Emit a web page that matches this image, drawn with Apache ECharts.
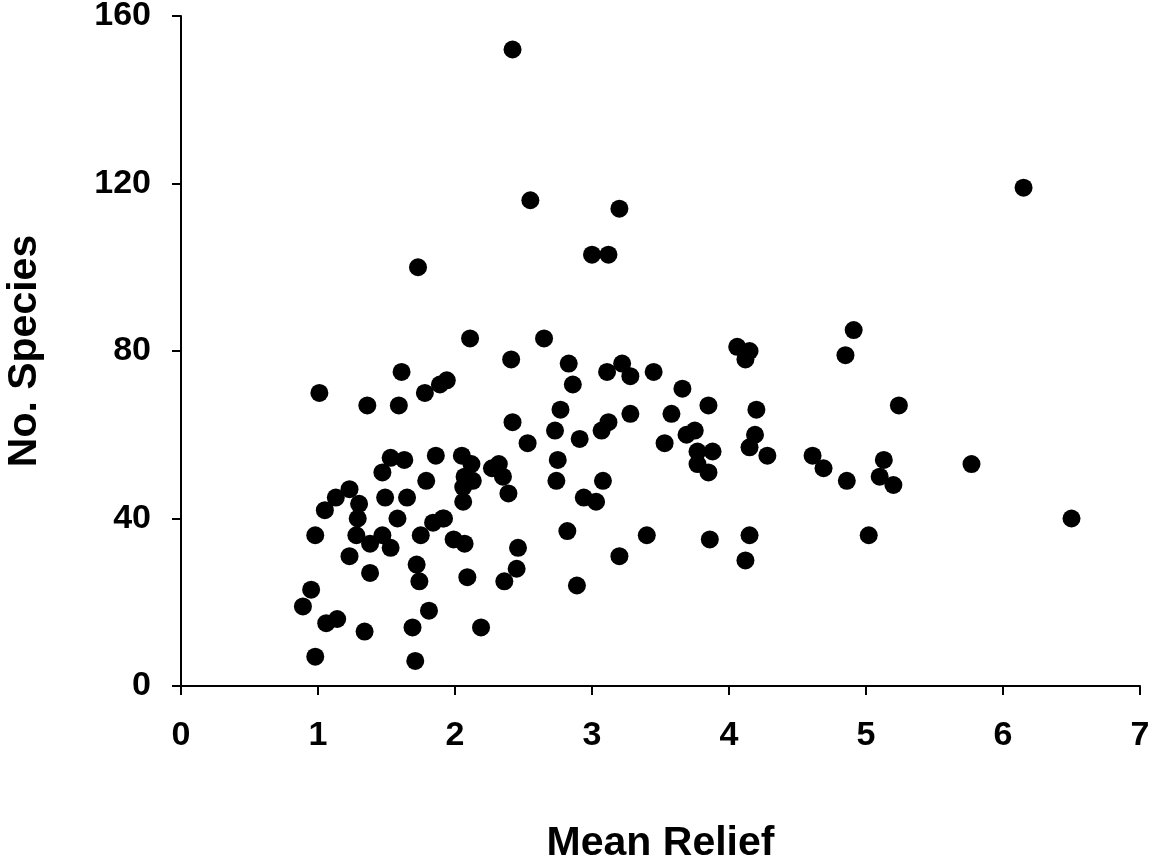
<!DOCTYPE html>
<html>
<head>
<meta charset="utf-8">
<script src="https://cdn.jsdelivr.net/npm/echarts@6/dist/echarts.min.js"></script>
<style>html,body{margin:0;padding:0;background:#fff}#c{width:1152px;height:861px}</style>
</head>
<body>
<div id="c"></div>
<script>
const meanRelief = [
  2.42, 6.15, 4.91, 4.85, 5.24, 4.61, 4.69, 4.86, 5.13, 5.10, 5.20, 5.77, 5.02, 6.50,
  4.06, 4.15, 4.12, 3.66, 3.85, 4.20, 3.75, 3.69, 4.19, 4.15, 4.28, 3.77, 3.88, 3.77, 3.85,
  3.86, 4.15, 4.12,
  2.11, 2.65, 2.41, 2.83, 2.86, 3.11, 3.22, 3.28, 3.45, 1.94, 2.77, 2.42, 2.73, 2.53, 2.91,
  3.12, 3.07, 3.28, 3.58, 3.53, 2.75, 2.74, 3.08, 2.94, 3.03, 2.82, 3.40, 3.20, 2.89,
  2.05, 2.12, 2.13, 2.07, 2.06, 2.06, 2.27, 2.32, 2.35, 2.39, 1.92, 1.99, 2.07, 2.46, 2.45,
  2.36, 2.09, 2.19,
  1.01, 1.61, 1.36, 1.59, 1.78, 1.89, 1.86, 1.53, 1.63, 1.47, 1.79, 1.23, 1.13, 1.05, 1.30,
  1.29, 1.49, 1.65, 1.58, 1.84, 1.91, 0.98, 1.28, 1.38, 1.47, 1.53, 1.75, 1.23, 1.38, 1.72,
  1.74, 1.81, 0.95, 0.89, 1.06, 1.14, 1.34, 1.69, 0.98, 1.71,
  2.55, 3.20, 3.00, 3.12, 1.73
];
const numSpecies = [
  152, 119, 85, 79, 67, 55, 52, 49, 54, 50, 48, 53, 36, 40,
  81, 80, 78, 71, 67, 66, 61, 60, 60, 57, 55, 56, 56, 53, 51,
  35, 36, 30,
  83, 83, 78, 77, 72, 75, 77, 74, 75, 73, 66, 63, 61, 58, 59,
  63, 61, 65, 65, 58, 54, 49, 49, 45, 44, 37, 36, 31, 24,
  55, 53, 49, 50, 47.5, 44, 52, 53, 50, 46, 40, 35, 34, 33, 28,
  25, 26, 14,
  70, 75, 67, 67, 70, 72, 55, 54.5, 54, 51, 49, 47, 45, 42, 43.5,
  40, 45, 45, 40, 39, 40, 36, 36, 34, 36, 33, 36, 31, 27, 29,
  25, 18, 23, 19, 15, 16, 13, 14, 7, 6,
  116, 114, 103, 103, 100
];
const xTicks = [0, 1, 2, 3, 4, 5, 6, 7];
const yTicks = [0, 40, 80, 120, 160];

const points = meanRelief.map((x, i) => [x, numSpecies[i]]);
const font = '"Liberation Sans", Arial, sans-serif';

const chart = echarts.init(document.getElementById('c'), null, {renderer: 'canvas'});
chart.setOption({
  backgroundColor: '#ffffff',
  animation: false,
  grid: {left: 181, right: 12, top: 16, bottom: 175, containLabel: false, outerBoundsMode: 'none'},
  xAxis: {
    type: 'value', min: xTicks[0], max: xTicks[xTicks.length - 1], interval: 1,
    name: 'Mean Relief', nameLocation: 'middle', nameGap: 137,
    nameTextStyle: {fontFamily: font, fontWeight: 'bold', fontSize: 41, color: '#000'},
    axisLine: {show: true, onZero: false, lineStyle: {color: '#000', width: 2}},
    axisTick: {show: true, inside: false, length: 9, lineStyle: {color: '#000', width: 2}},
    axisLabel: {fontFamily: font, fontWeight: 'bold', fontSize: 34, color: '#000', margin: 33},
    splitLine: {show: false}
  },
  yAxis: {
    type: 'value', min: yTicks[0], max: yTicks[yTicks.length - 1], interval: 40,
    name: 'No. Species', nameLocation: 'middle', nameGap: 136, nameRotate: 90,
    nameTextStyle: {fontFamily: font, fontWeight: 'bold', fontSize: 41, color: '#000'},
    axisLine: {show: true, onZero: false, lineStyle: {color: '#000', width: 2}},
    axisTick: {show: true, inside: false, length: 9, lineStyle: {color: '#000', width: 2}},
    axisLabel: {fontFamily: font, fontWeight: 'bold', fontSize: 34, color: '#000', margin: 30},
    splitLine: {show: false}
  },
  series: [{
    type: 'scatter',
    data: points,
    symbol: 'circle',
    symbolSize: 18,
    itemStyle: {color: '#000', opacity: 1},
    emphasis: {disabled: true}
  }]
});
</script>
</body>
</html>
